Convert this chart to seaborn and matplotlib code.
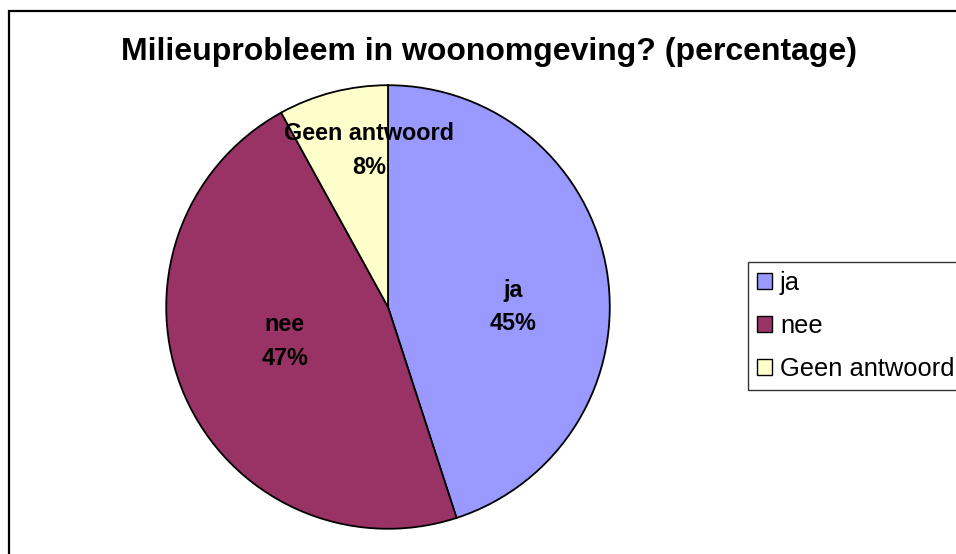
import matplotlib
matplotlib.use("Agg")
import matplotlib.pyplot as plt
import seaborn as sns
from matplotlib.patches import Rectangle, Patch

# -----------------------------------------------------
# Data
# -----------------------------------------------------
categories = ["ja", "nee", "Geen antwoord"]
percentages = [45, 47, 8]
colors = ["#9999FF", "#993366", "#FFFFCC"]
title = "Milieuprobleem in woonomgeving? (percentage)"

# label offsets inside the pie (data coords, radius = 1)
label_pos = [(0.565, 0.0), (-0.465, -0.155), (-0.085, 0.705)]

sns.set_theme(style="white")
plt.rcParams["font.family"] = ["Liberation Sans", "DejaVu Sans"]
plt.rcParams["text.color"] = "black"

W, H = 956, 554
fig = plt.figure(figsize=(W / 100, H / 100), dpi=100)

# outer chart frame (runs off the right/bottom edge like the reference)
fig.add_artist(Rectangle((9 / W, -0.05), 1.1, 1 - 11 / H + 0.05,
                         transform=fig.transFigure, fill=False,
                         edgecolor="black", linewidth=1.6))

fig.text(489 / W, 1 - 52 / H, title, ha="center", va="center",
         fontsize=23, fontweight="bold", color="black")

# pie axes
cx, cy, r = 388, 307, 224
ax = fig.add_axes([(cx - r) / W, (H - cy - r) / H, 2 * r / W, 2 * r / H])
wedges, _ = ax.pie(percentages, colors=colors, startangle=90, counterclock=False,
                   radius=1, wedgeprops=dict(edgecolor="black", linewidth=1.3))
ax.set_xlim(-1.01, 1.01)
ax.set_ylim(-1.01, 1.01)
ax.set_aspect("equal")
ax.axis("off")

for cat, pct, (x, y) in zip(categories, percentages, label_pos):
    ax.text(x, y, f"{cat}\n{pct}%", ha="center", va="center", color="black",
            fontsize=16.8, fontweight="bold", linespacing=1.6)

# legend
handles = [Patch(facecolor=c, edgecolor="black", linewidth=1.0) for c in colors]
leg = fig.legend(handles, categories, loc="upper left",
                 bbox_to_anchor=(748 / W, 1 - 262 / H), fontsize=18.4,
                 frameon=True, fancybox=False, borderpad=0.35,
                 handlelength=0.6, handleheight=0.6, handletextpad=0.3,
                 labelspacing=0.75, borderaxespad=0)
leg.get_frame().set_edgecolor("black")
leg.get_frame().set_linewidth(1.0)
for t in leg.get_texts():
    t.set_color("black")

fig.savefig("out.png", dpi=100)
